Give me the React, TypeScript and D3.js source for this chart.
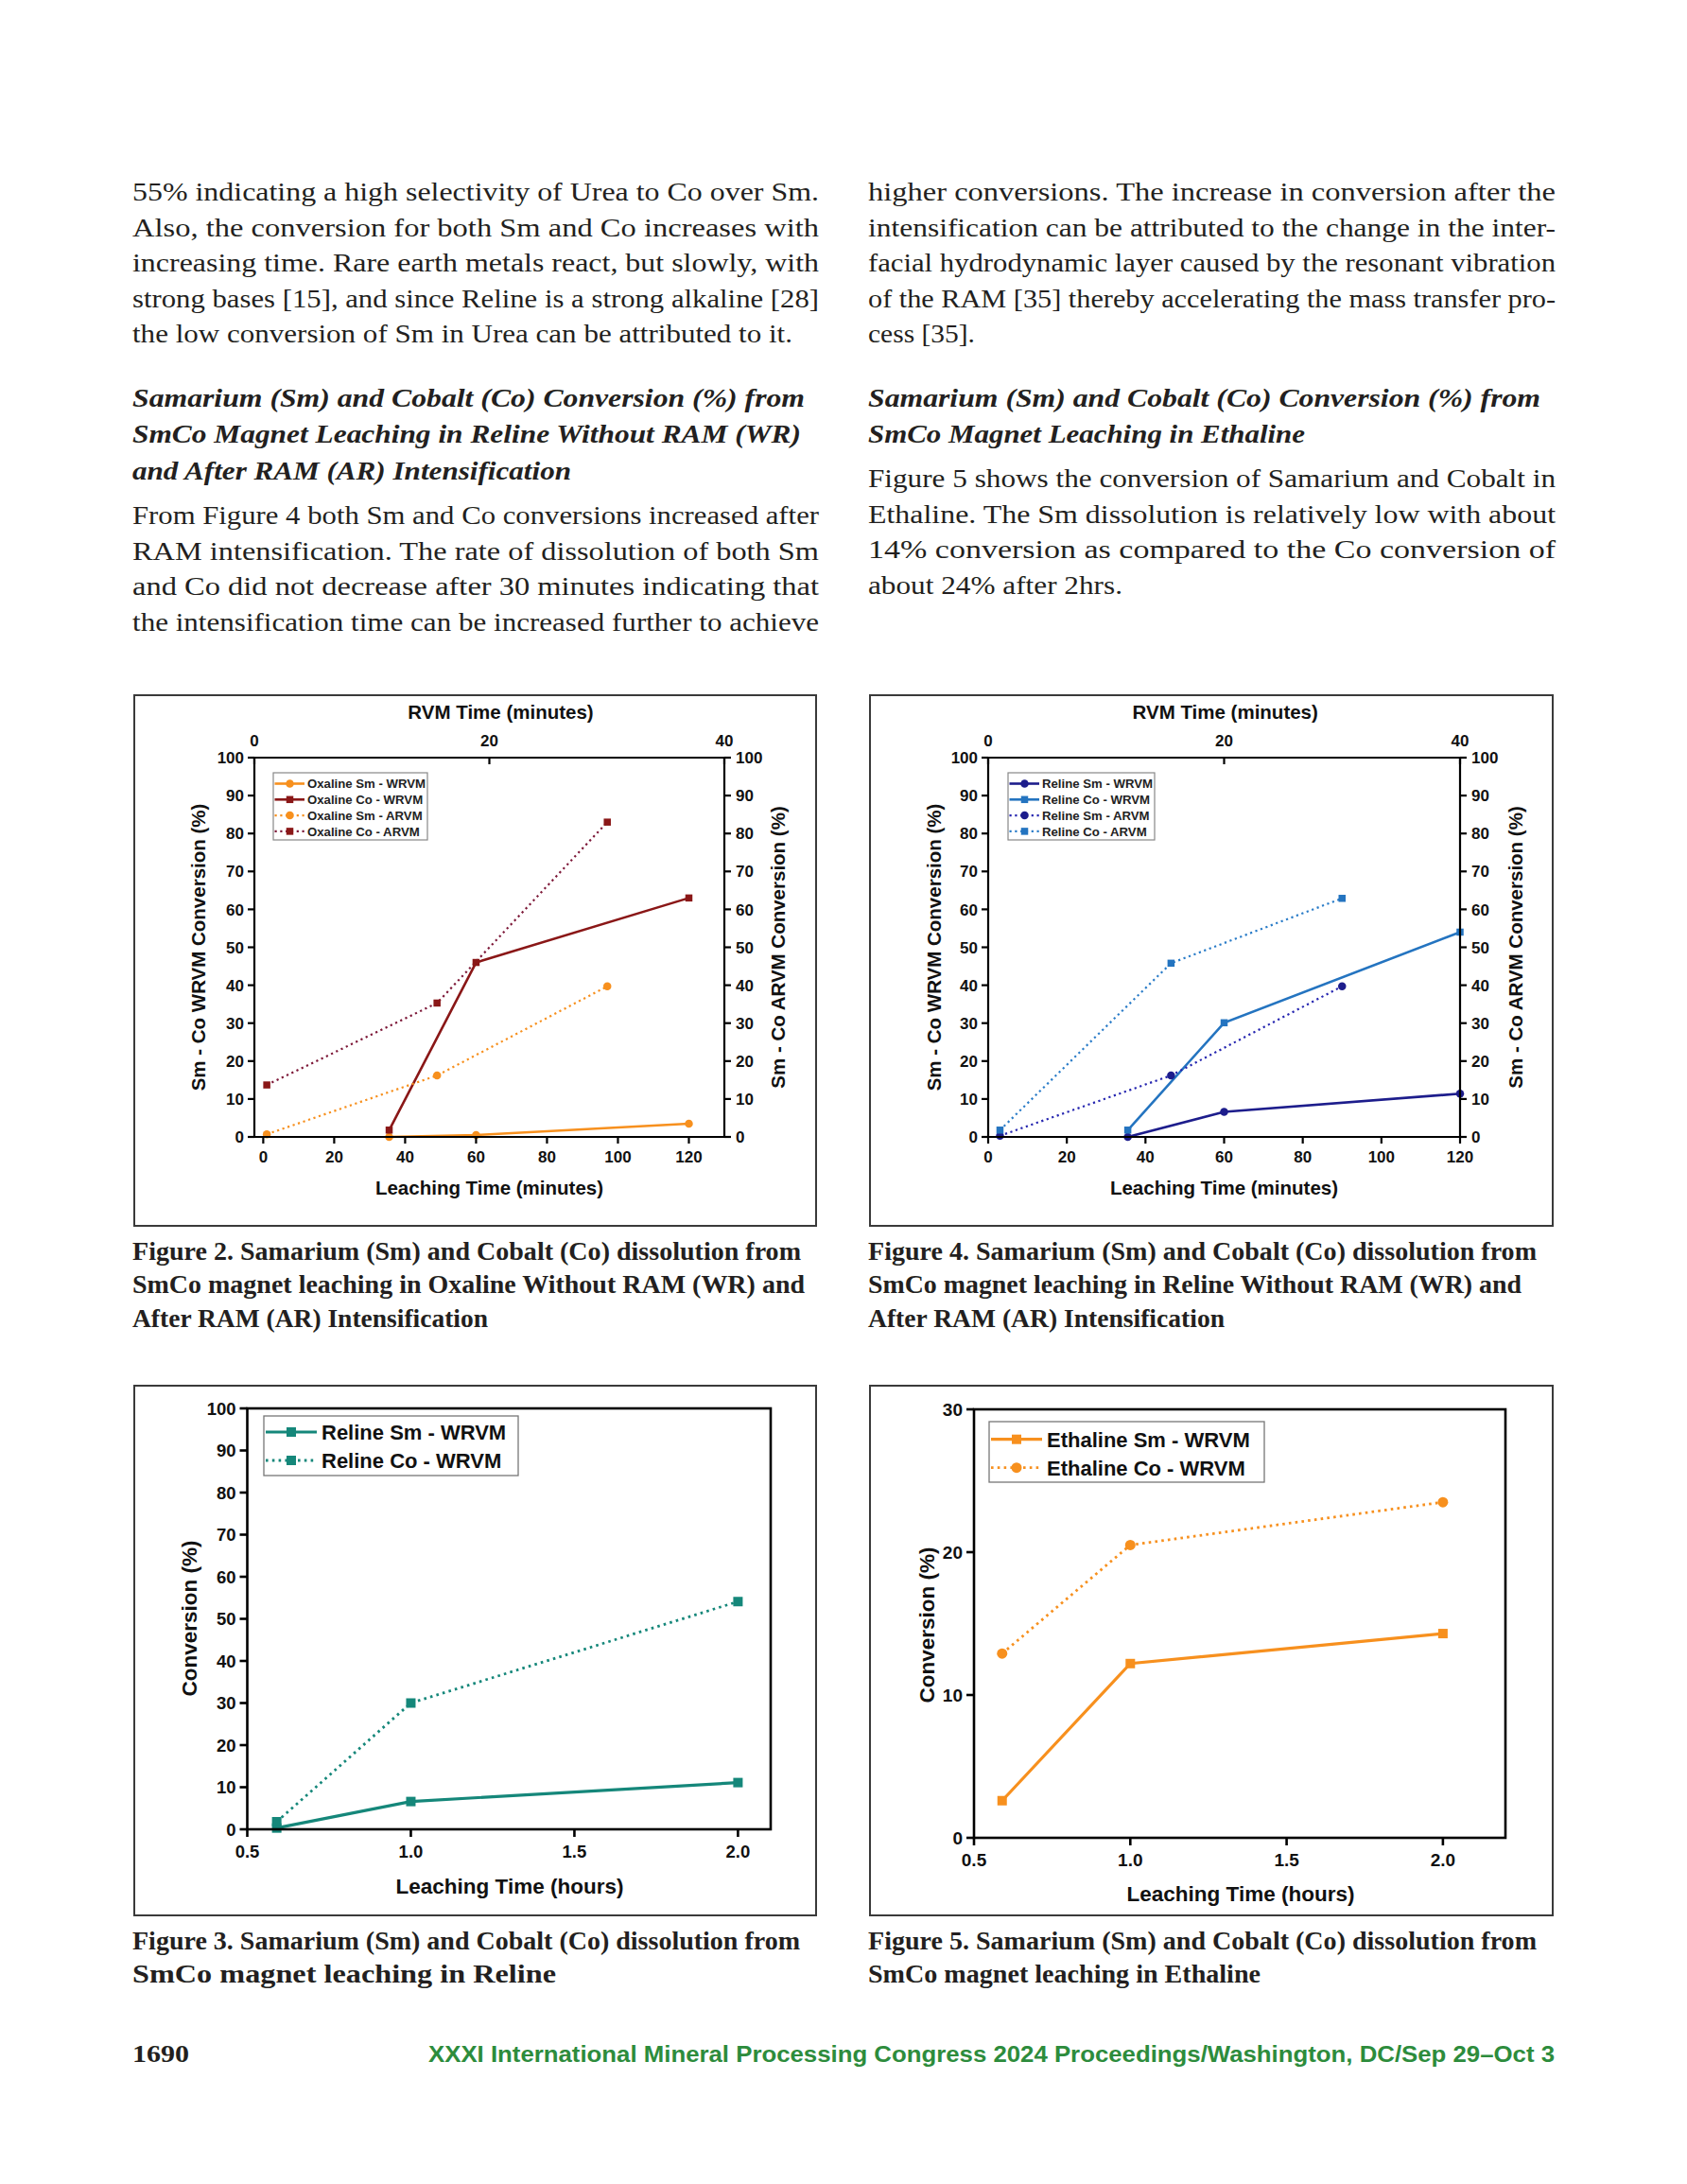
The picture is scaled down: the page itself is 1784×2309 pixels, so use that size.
import React from "react";
import * as d3 from "d3";

const SANS = "'Liberation Sans', Arial, Helvetica, sans-serif";
const SERIF = "'Liberation Serif', 'Times New Roman', serif";
const INK = "#231f20";

// ---------- Figure 2 : Oxaline (dual time axes) ----------
const leachTicks = [0, 20, 40, 60, 80, 100, 120];
const rvmTicks = [0, 20, 40];
const convTicks = [0, 10, 20, 30, 40, 50, 60, 70, 80, 90, 100];

const oxSmWrTime = [35.5, 60, 120];
const oxSmWrConv = [0, 0.5, 3.5];
const oxCoWrTime = [35.5, 60, 120];
const oxCoWrConv = [1.8, 46, 63];
const oxSmArTime = [1, 49, 97];
const oxSmArConv = [0.7, 16.2, 39.7];
const oxCoArTime = [1, 49, 97];
const oxCoArConv = [13.7, 35.3, 83];
const fig2Labels = ["Oxaline Sm - WRVM", "Oxaline Co - WRVM", "Oxaline Sm - ARVM", "Oxaline Co - ARVM"];

// ---------- Figure 4 : Reline (dual time axes) ----------
const reSmWrTime = [35.5, 60, 120];
const reSmWrConv = [0, 6.6, 11.4];
const reCoWrTime = [35.5, 60, 120];
const reCoWrConv = [1.8, 30.1, 54];
const reSmArTime = [3, 46.5, 90];
const reSmArConv = [0.3, 16.2, 39.7];
const reCoArTime = [3, 46.5, 90];
const reCoArConv = [1.8, 45.8, 62.9];
const fig4Labels = ["Reline Sm - WRVM", "Reline Co - WRVM", "Reline Sm - ARVM", "Reline Co - ARVM"];

// ---------- Figure 3 : Reline (hours) ----------
const hourTicks = [0.5, 1.0, 1.5, 2.0];
const fig3Hours = [0.59, 1.0, 2.0];
const fig3Sm = [0.3, 6.6, 11.1];
const fig3Co = [1.8, 30.0, 54.1];
const fig3Labels = ["Reline Sm - WRVM", "Reline Co - WRVM"];

// ---------- Figure 5 : Ethaline (hours) ----------
const fig5Ticks = [0, 10, 20, 30];
const fig5Hours = [0.59, 1.0, 2.0];
const fig5Sm = [2.6, 12.2, 14.3];
const fig5Co = [12.9, 20.5, 23.5];
const fig5Labels = ["Ethaline Sm - WRVM", "Ethaline Co - WRVM"];

type Series = {
  xs: number[];
  ys: number[];
  color: string;
  mcolor: string;
  dotted: boolean;
  shape: "circle" | "square";
  label: string;
};

function Marker({ shape, x, y, size, color }: { shape: string; x: number; y: number; size: number; color: string }) {
  if (shape === "circle") return <circle cx={x} cy={y} r={size / 2} fill={color} />;
  return <rect x={x - size / 2} y={y - size / 2} width={size} height={size} fill={color} />;
}

function DualChart(props: {
  frame: [number, number, number, number];
  L: number; R: number; T: number; B: number;
  xDomain: [number, number];
  series: Series[];
  legend: [number, number, number, number];
  topTitleX: number;
  yTitleL: number; yTitleR: number;
}) {
  const { frame, L, R, T, B, xDomain, series, legend } = props;
  const x = d3.scaleLinear().domain(xDomain).range([L, R]);
  const xTop = d3.scaleLinear().domain([0, 40]).range([L, R]);
  const y = d3.scaleLinear().domain([0, 100]).range([B, T]);
  const line = d3.line<[number, number]>().x((d) => x(d[0])).y((d) => y(d[1]));
  const fs = 17;
  const rows = [0, 1, 2, 3].map((i) => legend[1] + 11.5 + i * 16.8);
  const mid = (L + R) / 2;
  const ymid = 1001.5;
  return (
    <g>
      <rect x={frame[0]} y={frame[1]} width={frame[2] - frame[0]} height={frame[3] - frame[1]} fill="none" stroke="#3a3a3a" strokeWidth={2} />
      {series.map((s, i) => (
        <path key={"l" + i} d={line(s.xs.map((v, k) => [v, s.ys[k]]) as [number, number][]) || ""} fill="none" stroke={s.color}
          strokeWidth={s.dotted ? 2.2 : 2.6} strokeDasharray={s.dotted ? "2.2 3.6" : undefined} />
      ))}
      {series.map((s, i) => (
        <g key={"m" + i}>
          {s.xs.map((v, k) => (
            <Marker key={k} shape={s.shape} x={x(v)} y={y(s.ys[k])} size={s.shape === "circle" ? 8.5 : 7.5} color={s.mcolor} />
          ))}
        </g>
      ))}
      <g stroke="#000" strokeWidth={2.2} fill="none">
        <line x1={L} x2={R} y1={B} y2={B} />
        <line x1={L} x2={R} y1={T} y2={T} />
        <line x1={L} x2={L} y1={T} y2={B} />
        <line x1={R} x2={R} y1={T} y2={B} />
        {convTicks.map((v) => (
          <g key={v}>
            <line x1={L - 7} x2={L} y1={y(v)} y2={y(v)} />
            <line x1={R} x2={R + 7} y1={y(v)} y2={y(v)} />
          </g>
        ))}
        {leachTicks.map((v) => (
          <line key={v} x1={x(v)} x2={x(v)} y1={B} y2={B + 7} />
        ))}
        {rvmTicks.map((v) => (
          <line key={v} x1={xTop(v)} x2={xTop(v)} y1={T} y2={T + 7} />
        ))}
      </g>
      <g fontFamily={SANS} fontWeight="bold" fontSize={fs} fill="#111">
        {convTicks.map((v) => (
          <g key={v}>
            <text x={L - 11} y={y(v)} dy="0.36em" textAnchor="end">{v}</text>
            <text x={R + 12} y={y(v)} dy="0.36em" textAnchor="start">{v}</text>
          </g>
        ))}
        {leachTicks.map((v) => (
          <text key={v} x={x(v)} y={B + 27} textAnchor="middle">{v}</text>
        ))}
        {rvmTicks.map((v) => (
          <text key={v} x={xTop(v)} y={T - 12} textAnchor="middle">{v}</text>
        ))}
      </g>
      <g fontFamily={SANS} fontWeight="bold" fontSize={20.5} fill="#111">
        <text x={props.topTitleX} y={760} textAnchor="middle">RVM Time (minutes)</text>
        <text x={mid} y={1263} textAnchor="middle">Leaching Time (minutes)</text>
        <text transform={`translate(${props.yTitleL},${ymid}) rotate(-90)`} dy="0.36em" textAnchor="middle">Sm - Co WRVM Conversion (%)</text>
        <text transform={`translate(${props.yTitleR},${ymid}) rotate(-90)`} dy="0.36em" textAnchor="middle">Sm - Co ARVM Conversion (%)</text>
      </g>
      <rect x={legend[0]} y={legend[1]} width={legend[2] - legend[0]} height={legend[3] - legend[1]} fill="#fff" stroke="#888" strokeWidth={1.2} />
      {series.map((s, i) => (
        <g key={"lg" + i}>
          <line x1={legend[0] + 1.5} x2={legend[0] + 33} y1={rows[i]} y2={rows[i]} stroke={s.color}
            strokeWidth={s.dotted ? 2.2 : 2.6} strokeDasharray={s.dotted ? "2.2 3.6" : undefined} />
          <Marker shape={s.shape} x={legend[0] + 17.5} y={rows[i]} size={s.shape === "circle" ? 8.5 : 7.5} color={s.mcolor} />
          <text x={legend[0] + 36} y={rows[i]} dy="0.36em" fontFamily={SANS} fontWeight="bold" fontSize={13.2} fill="#222">{s.label}</text>
        </g>
      ))}
    </g>
  );
}

function SingleChart(props: {
  frame: [number, number, number, number];
  L: number; R: number; T: number; B: number;
  xDomain: [number, number];
  yDomain: [number, number];
  yTicks: number[];
  series: Series[];
  legend: [number, number, number, number];
  rows: number[];
  tickFs: number;
  yTitleX: number; yTitleY: number;
  xTitleX: number; xTitleY: number;
  msize: number;
}) {
  const { frame, L, R, T, B, xDomain, yDomain, yTicks, series, legend, rows, tickFs, msize } = props;
  const x = d3.scaleLinear().domain(xDomain).range([L, R]);
  const y = d3.scaleLinear().domain(yDomain).range([B, T]);
  const line = d3.line<[number, number]>().x((d) => x(d[0])).y((d) => y(d[1]));
  return (
    <g>
      <rect x={frame[0]} y={frame[1]} width={frame[2] - frame[0]} height={frame[3] - frame[1]} fill="none" stroke="#3a3a3a" strokeWidth={2} />
      {series.map((s, i) => (
        <path key={"l" + i} d={line(s.xs.map((v, k) => [v, s.ys[k]]) as [number, number][]) || ""} fill="none" stroke={s.color}
          strokeWidth={s.dotted ? 2.8 : 3.2} strokeDasharray={s.dotted ? "2.6 4.2" : undefined} />
      ))}
      {series.map((s, i) => (
        <g key={"m" + i}>
          {s.xs.map((v, k) => (
            <Marker key={k} shape={s.shape} x={x(v)} y={y(s.ys[k])} size={s.shape === "circle" ? msize + 1 : msize} color={s.mcolor} />
          ))}
        </g>
      ))}
      <g stroke="#000" strokeWidth={2.6} fill="none">
        <rect x={L} y={T} width={R - L} height={B - T} />
        {yTicks.map((v) => (
          <line key={v} x1={L - 8} x2={L} y1={y(v)} y2={y(v)} />
        ))}
        {hourTicks.map((v) => (
          <line key={v} x1={x(v)} x2={x(v)} y1={B} y2={B + 8} />
        ))}
      </g>
      <g fontFamily={SANS} fontWeight="bold" fontSize={tickFs} fill="#111">
        {yTicks.map((v) => (
          <text key={v} x={L - 12} y={y(v)} dy="0.36em" textAnchor="end">{v}</text>
        ))}
        {hourTicks.map((v) => (
          <text key={v} x={x(v)} y={B + 30} textAnchor="middle">{v.toFixed(1)}</text>
        ))}
      </g>
      <g fontFamily={SANS} fontWeight="bold" fontSize={22.5} fill="#111">
        <text x={props.xTitleX} y={props.xTitleY} textAnchor="middle">Leaching Time (hours)</text>
        <text transform={`translate(${props.yTitleX},${props.yTitleY}) rotate(-90)`} dy="0.36em" textAnchor="middle">Conversion (%)</text>
      </g>
      <rect x={legend[0]} y={legend[1]} width={legend[2] - legend[0]} height={legend[3] - legend[1]} fill="#fff" stroke="#777" strokeWidth={1.3} />
      {series.map((s, i) => (
        <g key={"lg" + i}>
          <line x1={legend[0] + 2} x2={legend[0] + 56} y1={rows[i]} y2={rows[i]} stroke={s.color}
            strokeWidth={s.dotted ? 2.8 : 3.2} strokeDasharray={s.dotted ? "2.6 4.2" : undefined} />
          <Marker shape={s.shape} x={legend[0] + 29} y={rows[i]} size={s.shape === "circle" ? msize + 1 : msize} color={s.mcolor} />
          <text x={legend[0] + 61} y={rows[i]} dy="0.36em" fontFamily={SANS} fontWeight="bold" fontSize={22} fill="#111">{s.label}</text>
        </g>
      ))}
    </g>
  );
}

// ---------- page text ----------
type TL = [string, number, number, number]; // text, x, baseline, width

const leftP1: TL[] = [
  ["55% indicating a high selectivity of Urea to Co over Sm.", 140, 212, 726],
  ["Also, the conversion for both Sm and Co increases with", 140, 249.6, 726],
  ["increasing time. Rare earth metals react, but slowly, with", 140, 287.2, 726],
  ["strong bases [15], and since Reline is a strong alkaline [28]", 140, 324.8, 726],
  ["the low conversion of Sm in Urea can be attributed to it.", 140, 362.4, 698],
];
const leftHead: TL[] = [
  ["Samarium (Sm) and Cobalt (Co) Conversion (%) from", 140, 430, 711],
  ["SmCo Magnet Leaching in Reline Without RAM (WR)", 140, 468.4, 707],
  ["and After RAM (AR) Intensification", 140, 506.8, 464],
];
const leftP2: TL[] = [
  ["From Figure 4 both Sm and Co conversions increased after", 140, 554, 726],
  ["RAM intensification. The rate of dissolution of both Sm", 140, 591.6, 726],
  ["and Co did not decrease after 30 minutes indicating that", 140, 629.2, 726],
  ["the intensification time can be increased further to achieve", 140, 666.8, 726],
];
const rightP1: TL[] = [
  ["higher conversions. The increase in conversion after the", 918, 212, 727],
  ["intensification can be attributed to the change in the inter-", 918, 249.6, 727],
  ["facial hydrodynamic layer caused by the resonant vibration", 918, 287.2, 727],
  ["of the RAM [35] thereby accelerating the mass transfer pro-", 918, 324.8, 727],
  ["cess [35].", 918, 362.4, 113],
];
const rightHead: TL[] = [
  ["Samarium (Sm) and Cobalt (Co) Conversion (%) from", 918, 430, 711],
  ["SmCo Magnet Leaching in Ethaline", 918, 468.4, 462],
];
const rightP2: TL[] = [
  ["Figure 5 shows the conversion of Samarium and Cobalt in", 918, 515, 727],
  ["Ethaline. The Sm dissolution is relatively low with about", 918, 552.6, 727],
  ["14% conversion as compared to the Co conversion of", 918, 590.2, 727],
  ["about 24% after 2hrs.", 918, 627.8, 269],
];
const captions: TL[] = [
  ["Figure 2. Samarium (Sm) and Cobalt (Co) dissolution from", 140, 1332, 707],
  ["SmCo magnet leaching in Oxaline Without RAM (WR) and", 140, 1367.4, 711],
  ["After RAM (AR) Intensification", 140, 1402.8, 376],
  ["Figure 4. Samarium (Sm) and Cobalt (Co) dissolution from", 918, 1332, 707],
  ["SmCo magnet leaching in Reline Without RAM (WR) and", 918, 1367.4, 691],
  ["After RAM (AR) Intensification", 918, 1402.8, 377],
  ["Figure 3. Samarium (Sm) and Cobalt (Co) dissolution from", 140, 2061, 706],
  ["SmCo magnet leaching in Reline", 140, 2096.4, 448],
  ["Figure 5. Samarium (Sm) and Cobalt (Co) dissolution from", 918, 2061, 707],
  ["SmCo magnet leaching in Ethaline", 918, 2096.4, 415],
];

function TextLines({ lines, style }: { lines: TL[]; style: any }) {
  return (
    <g>
      {lines.map((l, i) => (
        <text key={i} x={l[1]} y={l[2]} textLength={l[3]} lengthAdjust="spacingAndGlyphs" {...style}>{l[0]}</text>
      ))}
    </g>
  );
}

export default function App() {
  const orange = "#f7901e";
  const maroon = "#8a1717";
  const fig2: Series[] = [
    { xs: oxSmWrTime, ys: oxSmWrConv, color: orange, mcolor: orange, dotted: false, shape: "circle", label: fig2Labels[0] },
    { xs: oxCoWrTime, ys: oxCoWrConv, color: maroon, mcolor: maroon, dotted: false, shape: "square", label: fig2Labels[1] },
    { xs: oxSmArTime, ys: oxSmArConv, color: orange, mcolor: orange, dotted: true, shape: "circle", label: fig2Labels[2] },
    { xs: oxCoArTime, ys: oxCoArConv, color: "#7d1838", mcolor: maroon, dotted: true, shape: "square", label: fig2Labels[3] },
  ];
  const navy = "#1d1d8c";
  const blue = "#2474c0";
  const fig4: Series[] = [
    { xs: reSmWrTime, ys: reSmWrConv, color: navy, mcolor: navy, dotted: false, shape: "circle", label: fig4Labels[0] },
    { xs: reCoWrTime, ys: reCoWrConv, color: blue, mcolor: blue, dotted: false, shape: "square", label: fig4Labels[1] },
    { xs: reSmArTime, ys: reSmArConv, color: "#2626b0", mcolor: navy, dotted: true, shape: "circle", label: fig4Labels[2] },
    { xs: reCoArTime, ys: reCoArConv, color: "#2a7cc8", mcolor: blue, dotted: true, shape: "square", label: fig4Labels[3] },
  ];
  const teal = "#15877a";
  const fig3: Series[] = [
    { xs: fig3Hours, ys: fig3Sm, color: teal, mcolor: teal, dotted: false, shape: "square", label: fig3Labels[0] },
    { xs: fig3Hours, ys: fig3Co, color: teal, mcolor: teal, dotted: true, shape: "square", label: fig3Labels[1] },
  ];
  const fig5: Series[] = [
    { xs: fig5Hours, ys: fig5Sm, color: orange, mcolor: orange, dotted: false, shape: "square", label: fig5Labels[0] },
    { xs: fig5Hours, ys: fig5Co, color: orange, mcolor: orange, dotted: true, shape: "circle", label: fig5Labels[1] },
  ];

  const bodyStyle = { fontFamily: SERIF, fontSize: 26.5, fill: INK };
  const headStyle = { fontFamily: SERIF, fontSize: 27, fontWeight: "bold", fontStyle: "italic", fill: INK };
  const capStyle = { fontFamily: SERIF, fontSize: 26.5, fontWeight: "bold", fill: INK };

  return (
    <svg width={1784} height={2309} viewBox="0 0 1784 2309" style={{ position: "absolute", left: 0, top: 0, background: "#fff" }}>
      <rect x={0} y={0} width={1784} height={2309} fill="#fff" />
      <TextLines lines={leftP1} style={bodyStyle} />
      <TextLines lines={leftHead} style={headStyle} />
      <TextLines lines={leftP2} style={bodyStyle} />
      <TextLines lines={rightP1} style={bodyStyle} />
      <TextLines lines={rightHead} style={headStyle} />
      <TextLines lines={rightP2} style={bodyStyle} />

      <DualChart frame={[142, 735, 863, 1296]} L={269} R={766} T={801} B={1202} xDomain={[-2.5, 130]}
        series={fig2} legend={[289, 817, 452, 888]} topTitleX={529.5} yTitleL={209.5} yTitleR={823} />
      <DualChart frame={[920, 735, 1642, 1296]} L={1045} R={1544} T={801} B={1202} xDomain={[0, 120]}
        series={fig4} legend={[1066, 817, 1221, 888]} topTitleX={1295.7} yTitleL={987.6} yTitleR={1602.4} />

      <SingleChart frame={[142, 1465, 863, 2025]} L={261.5} R={815} T={1489} B={1934} xDomain={[0.5, 2.1]} yDomain={[0, 100]}
        yTicks={convTicks} series={fig3} legend={[279, 1497, 548, 1560]} rows={[1514, 1544]} tickFs={18.5}
        yTitleX={200} yTitleY={1711} xTitleX={539} xTitleY={2002} msize={10} />
      <SingleChart frame={[920, 1465, 1642, 2025]} L={1030} R={1592} T={1490} B={1943} xDomain={[0.5, 2.2]} yDomain={[0, 30]}
        yTicks={fig5Ticks} series={fig5} legend={[1046, 1503, 1337, 1567]} rows={[1521.7, 1551.7]} tickFs={19}
        yTitleX={980} yTitleY={1718} xTitleX={1312} xTitleY={2010} msize={10} />

      <TextLines lines={captions} style={capStyle} />

      <text x={140} y={2180} textLength={60} lengthAdjust="spacingAndGlyphs" fontFamily={SERIF} fontWeight="bold" fontSize={26} fill={INK}>1690</text>
      <text x={453} y={2180} textLength={1191} lengthAdjust="spacingAndGlyphs" fontFamily={SANS} fontWeight="bold" fontSize={23} fill="#2d8c3c">
        XXXI International Mineral Processing Congress 2024 Proceedings/Washington, DC/Sep 29–Oct 3
      </text>
    </svg>
  );
}
